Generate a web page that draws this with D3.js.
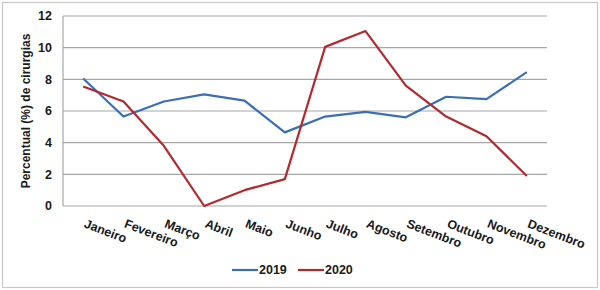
<!DOCTYPE html>
<html>
<head>
  <meta charset="utf-8">
  <script src="https://d3js.org/d3.v7.min.js"></script>
  <style>
    body { margin: 0; background: #fff; }
    text { font-family: "Liberation Sans", Arial, sans-serif; font-weight: bold; fill: #1a1a1a; }
  </style>
</head>
<body>
  <div id="chart"></div>
  <script>
    const months = ["Janeiro", "Fevereiro", "Março", "Abril", "Maio", "Junho",
                    "Julho", "Agosto", "Setembro", "Outubro", "Novembro", "Dezembro"];
    const values2019 = [8.05, 5.65, 6.6, 7.05, 6.65, 4.65, 5.65, 5.95, 5.6, 6.9, 6.75, 8.45];
    const values2020 = [7.55, 6.6, 3.8, 0, 1.0, 1.7, 10.05, 11.05, 7.6, 5.65, 4.4, 1.9];
    const yTicks = [0, 2, 4, 6, 8, 10, 12];
    const seriesNames = ["2019", "2020"];
    const colors = ["#3a6fb6", "#b22a2e"];

    const width = 600, height = 290;
    const plotLeft = 63, plotRight = 547, plotTop = 16, plotBottom = 206;

    const svg = d3.select("#chart").append("svg")
      .attr("width", width).attr("height", height);

    // outer frame
    svg.append("rect")
      .attr("x", 2.5).attr("y", 2.5)
      .attr("width", width - 5).attr("height", height - 5)
      .attr("fill", "#fff").attr("stroke", "#c8c8c8").attr("stroke-width", 1.2);

    const x = d3.scaleBand().domain(months).range([plotLeft, plotRight]);
    const y = d3.scaleLinear().domain([0, 12]).range([plotBottom, plotTop]);

    // gridlines
    svg.append("g").selectAll("line").data(yTicks).join("line")
      .attr("x1", plotLeft).attr("x2", plotRight)
      .attr("y1", d => y(d)).attr("y2", d => y(d))
      .attr("stroke", "#a6a6a6").attr("stroke-width", 1.2);

    // left axis line
    svg.append("line")
      .attr("x1", plotLeft).attr("x2", plotLeft).attr("y1", y(12)).attr("y2", y(0))
      .attr("stroke", "#a6a6a6").attr("stroke-width", 1.2);

    // y tick labels
    svg.append("g").selectAll("text").data(yTicks).join("text")
      .attr("x", 52).attr("y", d => y(d)).attr("dy", "0.35em")
      .attr("text-anchor", "end").attr("font-size", 12.5)
      .text(d => d);

    // y axis title
    svg.append("text")
      .attr("transform", `translate(30,${(plotTop + plotBottom) / 2}) rotate(-90)`)
      .attr("text-anchor", "middle").attr("font-size", 12)
      .text("Percentual (%) de cirurgias");

    // x labels
    const cx = d => x(d) + x.bandwidth() / 2;
    svg.append("g").selectAll("text").data(months).join("text")
      .attr("transform", d => `translate(${cx(d)},227) rotate(21)`)
      .attr("text-anchor", "start").attr("font-size", 12.5)
      .text(d => d);

    // lines
    const line = d3.line()
      .x((d, i) => cx(months[i]))
      .y(d => y(d));

    [values2019, values2020].forEach((vals, k) => {
      svg.append("path")
        .datum(vals)
        .attr("fill", "none")
        .attr("stroke", colors[k])
        .attr("stroke-width", 2.2)
        .attr("stroke-linejoin", "round")
        .attr("d", line);
    });

    // legend
    const legendX = [232, 298];
    seriesNames.forEach((name, k) => {
      svg.append("line")
        .attr("x1", legendX[k]).attr("x2", legendX[k] + 26)
        .attr("y1", 270).attr("y2", 270)
        .attr("stroke", colors[k]).attr("stroke-width", 2.2);
      svg.append("text")
        .attr("x", legendX[k] + 27).attr("y", 270).attr("dy", "0.35em")
        .attr("font-size", 12.5)
        .text(name);
    });
  </script>
</body>
</html>
